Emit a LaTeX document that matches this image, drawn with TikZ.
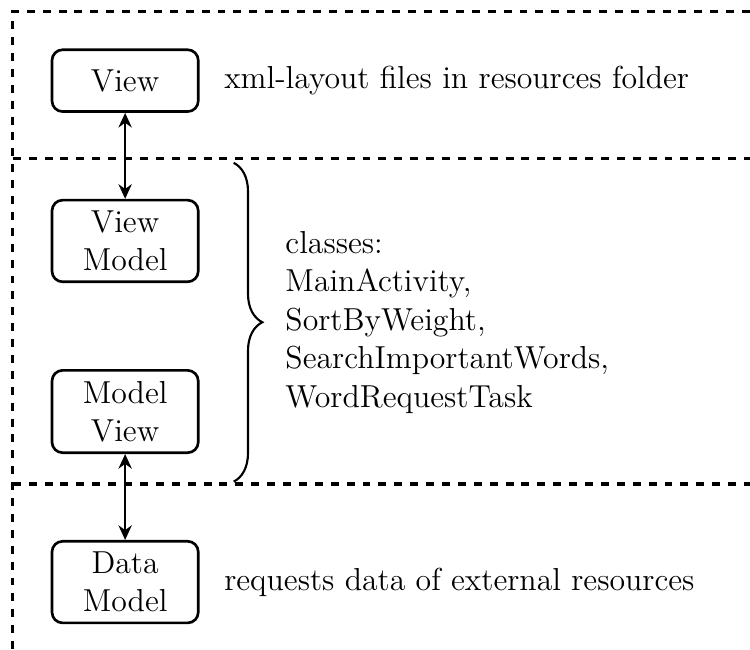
\documentclass[12pt,tikz,border=0pt]{standalone}
\usetikzlibrary{arrows.meta,positioning,decorations.pathreplacing}

\begin{document}
\begin{tikzpicture}[
  node distance=1.14cm,
  box/.style={rounded corners=4pt,draw,line width=1pt,minimum width=1.94cm,minimum height=0.82cm,align=center},
  arrow/.style={{Stealth[length=5.5pt,width=5pt]}-{Stealth[length=5.5pt,width=5pt]},line width=1pt},
  layer/.style={dashed,very thick},
  brace/.style={decorate,decoration={brace,amplitude=0.38cm},thick}
]
\useasboundingbox (0,0) rectangle (9.95,-8.62);
% layers
\coordinate (tl) at (0.17,-0.15);
\draw[layer] (9.95,-0.15) -- (tl) -- (0.17,-8.62);
\draw[layer] (0.17,-2.10) -- (9.95,-2.10);
\draw[layer] (0.17,-6.42) -- (9.95,-6.42);
% components
\node[box] (view) at (1.66,-1.07) {View};
\node[box,below=of view] (vm) {View\\Model};
\node[box,below=of vm] (mv) {Model\\View};
\node[box,below=of mv] (dm) {Data\\Model};
\draw[arrow] (view) -- (vm);
\draw[arrow] (mv) -- (dm);
% notes
\node[right=0.18cm of view] (viewnote) {xml-layout files in resources folder};
\node[right=0.18cm of dm] (dmnote) {requests data of external resources};
\coordinate (btop) at (3.10,-2.16);
\coordinate (bbot) at (3.10,-6.39);
\draw[brace] (btop) -- coordinate[midway] (bmid) (bbot);
\node[right=0.54cm of bmid,align=left] (classes) {classes:\\MainActivity,\\SortByWeight,\\SearchImportantWords,\\WordRequestTask};
\end{tikzpicture}
\end{document}
